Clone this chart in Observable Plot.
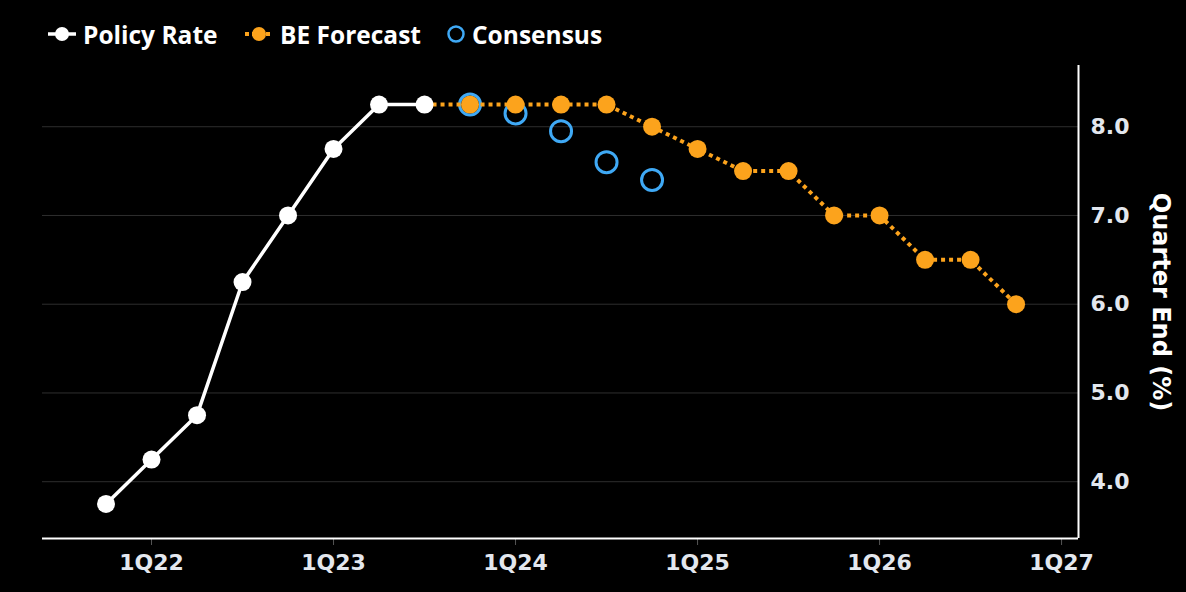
<!DOCTYPE html>
<html>
<head>
<meta charset="utf-8">
<script src="https://cdn.jsdelivr.net/npm/d3@7"></script>
<script src="https://cdn.jsdelivr.net/npm/@observablehq/plot@0.6"></script>
<style>
  html, body { margin: 0; padding: 0; background: #000; }
  #wrap { position: relative; width: 1186px; height: 592px; background: #000; overflow: hidden; }
  #legend { position: absolute; left: 0; top: 0; width: 700px; height: 60px;
            font-family: "Open Sans", "Noto Sans", sans-serif; font-weight: 700; font-size: 24.5px; color: #fff; }
  #legend .item { position: absolute; top: 17px; display: flex; align-items: center; height: 34px; white-space: nowrap; }
  #legend svg { margin-right: 5px; }
  #chart { position: absolute; left: 0; top: 0; }
  #chart svg text { font-weight: 700; font-family: "DejaVu Sans", sans-serif; }
</style>
</head>
<body>
<div id="wrap">
  <div id="chart"></div>
  <div id="legend"></div>
</div>
<script>
// ---- data ----
const policyQuarters = ["4Q21","1Q22","2Q22","3Q22","4Q22","1Q23","2Q23","3Q23"];
const policyValues   = [3.75, 4.25, 4.75, 6.25, 7.00, 7.75, 8.25, 8.25];

const forecastQuarters = ["3Q23","4Q23","1Q24","2Q24","3Q24","4Q24","1Q25","2Q25","3Q25","4Q25","1Q26","2Q26","3Q26","4Q26"];
const forecastValues   = [8.25, 8.25, 8.25, 8.25, 8.25, 8.00, 7.75, 7.50, 7.50, 7.00, 7.00, 6.50, 6.50, 6.00];

const consensusQuarters = ["4Q23","1Q24","2Q24","3Q24","4Q24"];
const consensusValues   = [8.25, 8.15, 7.95, 7.60, 7.40];

const xTickYears = [2022, 2023, 2024, 2025, 2026, 2027];
const xTickLabels = ["1Q22", "1Q23", "1Q24", "1Q25", "1Q26", "1Q27"];
const yTicks = [4, 5, 6, 7, 8];
const yTickLabels = ["4.0", "5.0", "6.0", "7.0", "8.0"];

const seriesNames = ["Policy Rate", "BE Forecast", "Consensus"];
const axisTitle = "Quarter End (%)";
const colors = { policy: "#ffffff", forecast: "#fca31c", consensus: "#3fa9f5" };

// ---- helpers ----
const qnum = s => (2000 + +s.slice(2)) + (+s[0] - 1) / 4;
const toRows = (qs, vs) => qs.map((q, i) => ({ x: qnum(q), y: vs[i] }));
const policy = toRows(policyQuarters, policyValues);
const forecast = toRows(forecastQuarters, forecastValues);
const forecastDots = forecast.slice(1);
const consensus = toRows(consensusQuarters, consensusValues);

const xDomain = [2021.401, 2027.093];
const yDomain = [3.36, 8.69];
const tickFont = "'DejaVu Sans', sans-serif";

const chart = Plot.plot({
  width: 1186,
  height: 592,
  marginTop: 65,
  marginBottom: 54,
  marginLeft: 42,
  marginRight: 108,
  style: { background: "#000", color: "#e3e7ee", fontFamily: tickFont, fontSize: "22px", fontWeight: 700 },
  x: { type: "linear", domain: xDomain },
  y: { domain: yDomain },
  marks: [
    Plot.gridY(yTicks, { stroke: "#2e2e2e", strokeOpacity: 1, strokeWidth: 1 }),
    Plot.axisY(yTicks, { anchor: "right", tickSize: 0, tickPadding: 12, label: null, fill: "#e3e7ee", fontSize: 22,
      tickFormat: d => yTickLabels[yTicks.indexOf(d)] }),
    Plot.axisX(xTickYears, { anchor: "bottom", tickSize: 7, tickPadding: 9, stroke: "#555", label: null, fill: "#e3e7ee", fontSize: 22,
      tickFormat: d => xTickLabels[xTickYears.indexOf(d)] }),
    Plot.ruleY([yDomain[0]], { stroke: "#fff", strokeWidth: 2 }),
    Plot.ruleX([xDomain[1]], { stroke: "#fff", strokeWidth: 2 }),
    Plot.text([axisTitle], { frameAnchor: "right", textAnchor: "middle", dx: 82, rotate: 90, fill: "#fff",
      fontSize: 24, fontWeight: 700, fontFamily: tickFont }),
    Plot.dot(consensus, { x: "x", y: "y", r: 10.5, stroke: colors.consensus, strokeWidth: 3, fill: "none" }),
    Plot.line(forecast, { x: "x", y: "y", stroke: colors.forecast, strokeWidth: 4, strokeDasharray: "4,4", strokeLinecap: "butt" }),
    Plot.dot(forecastDots, { x: "x", y: "y", r: 9, fill: colors.forecast }),
    Plot.line(policy, { x: "x", y: "y", stroke: colors.policy, strokeWidth: 3.5 }),
    Plot.dot(policy, { x: "x", y: "y", r: 9, fill: colors.policy })
  ]
});
document.getElementById("chart").appendChild(chart);

// ---- legend ----
const legend = document.getElementById("legend");
const symbols = [
  `<svg width="32" height="20"><line x1="2" y1="10" x2="30" y2="10" stroke="${colors.policy}" stroke-width="3.5"/><circle cx="16" cy="10" r="7" fill="${colors.policy}"/></svg>`,
  `<svg width="32" height="20"><line x1="2" y1="10" x2="30" y2="10" stroke="${colors.forecast}" stroke-width="4" stroke-dasharray="4,3"/><circle cx="16" cy="10" r="7" fill="${colors.forecast}"/></svg>`,
  `<svg width="22" height="20"><circle cx="11" cy="10" r="7.5" fill="none" stroke="${colors.consensus}" stroke-width="2.5"/></svg>`
];
const lefts = [46, 243, 445];
seriesNames.forEach((n, i) => {
  const d = document.createElement("div");
  d.className = "item";
  d.style.left = lefts[i] + "px";
  d.innerHTML = symbols[i] + `<span>${n}</span>`;
  legend.appendChild(d);
});
</script>
</body>
</html>
